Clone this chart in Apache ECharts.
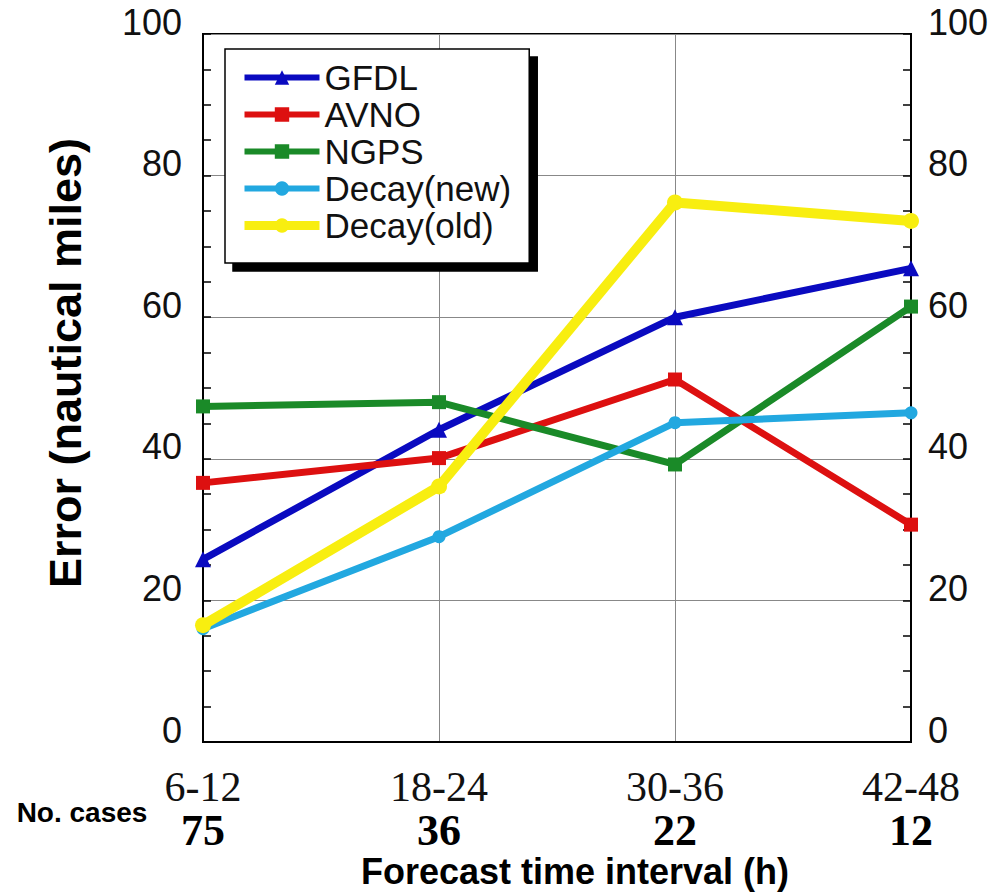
<!DOCTYPE html>
<html>
<head>
<meta charset="utf-8">
<script src="https://cdn.jsdelivr.net/npm/echarts@6/dist/echarts.min.js"></script>
<style>html,body{margin:0;padding:0;background:#fff;}#chart{width:999px;height:895px;}</style>
</head>
<body>
<div id="chart"></div>
<script>
const categories = ['6-12', '18-24', '30-36', '42-48'];
const cases = [75, 36, 22, 12];
const gfdl = [25.8, 44.1, 60.0, 66.9];
const avno = [36.6, 40.1, 51.2, 30.7];
const ngps = [47.4, 48.0, 39.2, 61.5];
const decayNew = [16.0, 29.0, 45.1, 46.5];
const decayOld = [16.5, 36.1, 76.2, 73.6];
const yTicks = [0, 20, 40, 60, 80, 100];
const seriesNames = ['GFDL', 'AVNO', 'NGPS', 'Decay(new)', 'Decay(old)'];

const SANS = "'Liberation Sans', Arial, Helvetica, sans-serif";
const SERIF = "'Liberation Serif', 'Times New Roman', serif";

const styles = {
  'GFDL': { color: '#0a0ac0', symbol: 'triangle', size: 16, width: 7 },
  'AVNO': { color: '#dd1010', symbol: 'rect', size: 14, width: 7 },
  'NGPS': { color: '#1a8a28', symbol: 'rect', size: 14, width: 7 },
  'Decay(new)': { color: '#22a8e0', symbol: 'circle', size: 13, width: 7 },
  'Decay(old)': { color: '#f8ee10', symbol: 'circle', size: 16, width: 10 }
};
const dataByName = { 'GFDL': gfdl, 'AVNO': avno, 'NGPS': ngps, 'Decay(new)': decayNew, 'Decay(old)': decayOld };

function mkSeries(name) {
  const s = styles[name];
  return {
    name: name, type: 'line', data: dataByName[name], yAxisIndex: 0,
    symbol: s.symbol, symbolSize: s.size, showSymbol: true,
    lineStyle: { color: s.color, width: s.width },
    itemStyle: { color: s.color, borderWidth: 0 },
    emphasis: { disabled: true },
    animation: false
  };
}

function tickAxis(position, margin) {
  return {
    type: 'value', position: position,
    min: yTicks[0], max: yTicks[yTicks.length - 1], interval: 5,
    axisLine: { show: true, lineStyle: { color: '#000', width: 2 } },
    axisTick: { show: true, inside: true, length: 8, lineStyle: { color: '#000', width: 1.5 } },
    splitLine: { show: false },
    axisLabel: {
      color: '#111', fontSize: 36, fontFamily: SANS, margin: margin,
      verticalAlign: 'bottom', lineHeight: 24,
      formatter: function (v) { return yTicks.indexOf(v) >= 0 ? String(v) : ''; }
    }
  };
}

const chart = echarts.init(document.getElementById('chart'), null, { renderer: 'svg' });
chart.setOption({
  backgroundColor: '#fff',
  animation: false,
  grid: { left: 203, right: 88, top: 34, bottom: 153, show: true, borderColor: '#000', borderWidth: 2, backgroundColor: 'transparent' },
  legend: {
    orient: 'vertical', left: 225, top: 49,
    backgroundColor: '#fff', borderColor: '#000', borderWidth: 1.5,
    shadowColor: '#000', shadowBlur: 0, shadowOffsetX: 8, shadowOffsetY: 8,
    padding: [10, 18, 19, 15],
    itemWidth: 75, itemHeight: 18, itemGap: 0,
    textStyle: { fontSize: 35, fontFamily: SANS, color: '#111', lineHeight: 37 },
    data: seriesNames.map(function (n) {
      return { name: n, lineStyle: { width: Math.round(styles[n].width * 0.85) } };
    })
  },
  xAxis: {
    type: 'category', data: categories, boundaryGap: false,
    axisLine: { show: true, lineStyle: { color: '#000', width: 2 } },
    axisTick: { show: false },
    splitLine: { show: true, lineStyle: { color: '#888', width: 1 } },
    axisLabel: {
      margin: 22, interval: 0,
      formatter: function (v, i) { return '{a|' + v + '}\n{b|' + cases[i] + '}'; },
      rich: {
        a: { fontFamily: SERIF, fontSize: 42, color: '#111', lineHeight: 46 },
        b: { fontFamily: SERIF, fontSize: 44, fontWeight: 'bold', color: '#000', lineHeight: 40 }
      }
    }
  },
  yAxis: [
    tickAxis('left', 21),
    tickAxis('right', 17),
    {
      type: 'value', position: 'left',
      min: yTicks[0], max: yTicks[yTicks.length - 1], interval: 20,
      axisLine: { show: false }, axisTick: { show: false }, axisLabel: { show: false },
      splitLine: { show: true, lineStyle: { color: '#888', width: 1 } }
    }
  ],
  graphic: [
    { type: 'text', x: 65, y: 363, rotation: Math.PI / 2,
      style: { text: 'Error (nautical miles)', fontSize: 45, fontWeight: 'bold', fontFamily: SANS, fill: '#000', align: 'center', verticalAlign: 'middle' } },
    { type: 'text', x: 82, y: 812,
      style: { text: 'No. cases', fontSize: 28, fontWeight: 'bold', fontFamily: SANS, fill: '#000', align: 'center', verticalAlign: 'middle' } },
    { type: 'text', x: 575, y: 871,
      style: { text: 'Forecast time interval (h)', fontSize: 36, fontWeight: 'bold', fontFamily: SANS, fill: '#000', align: 'center', verticalAlign: 'middle' } }
  ],
  series: seriesNames.map(mkSeries)
});
</script>
</body>
</html>
